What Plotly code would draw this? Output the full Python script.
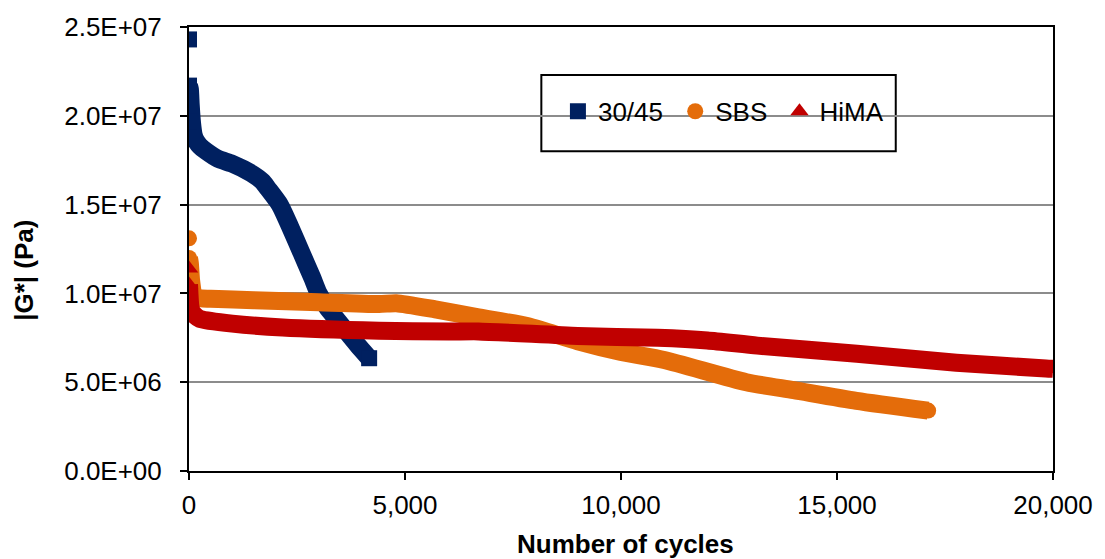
import plotly.graph_objects as go

# ---------------- data ----------------
# 30/45
b45_x = [0, 20, 40, 70, 110, 160, 250, 400, 676, 1000, 1444, 1700, 1828, 2100, 2350, 2600, 2850, 3000, 3200, 3400, 3630, 3900, 4170]
b45_y = [2.17e7, 2.15e7, 2.06e7, 1.96e7, 1.89e7, 1.86e7, 1.83e7, 1.80e7, 1.757e7, 1.73e7, 1.676e7, 1.63e7, 1.59e7, 1.50e7, 1.37e7, 1.23e7, 1.09e7, 1.00e7, 9.2e6, 8.6e6, 7.9e6, 7.1e6, 6.35e6]
b45_lone_x = [0, 0, 0]
b45_lone_y = [2.43e7, 2.17e7, 1.97e7]

# SBS
sbs_x = [0, 20, 50, 100, 200, 500, 1500, 3000, 4400, 4800, 5700, 6700, 7850, 9000, 10000, 11000, 12900, 14000, 15450, 17110]
sbs_y = [1.20e7, 1.17e7, 1.07e7, 1.0e7, 9.75e6, 9.7e6, 9.62e6, 9.5e6, 9.4e6, 9.45e6, 9.1e6, 8.65e6, 8.15e6, 7.3e6, 6.7e6, 6.25e6, 5.0e6, 4.55e6, 3.95e6, 3.4e6]
sbs_lone_x = [0, 0]
sbs_lone_y = [1.31e7, 1.20e7]

# HiMA
hima_x = [0, 10, 30, 60, 120, 250, 1000, 2166, 4400, 6013, 6700, 9000, 10850, 12000, 13157, 15461, 17765, 19836, 20000]
hima_y = [1.05e7, 1.0e7, 9.3e6, 9.0e6, 8.8e6, 8.57e6, 8.3e6, 8.08e6, 7.9e6, 7.85e6, 7.86e6, 7.6e6, 7.5e6, 7.35e6, 7.06e6, 6.6e6, 6.1e6, 5.77e6, 5.75e6]
hima_lone_x = [0, 0]
hima_lone_y = [1.14e7, 1.05e7]

series_names = ["30/45", "SBS", "HiMA"]
colors = ["#002060", "#E46C0A", "#C00000"]
symbols = ["square", "circle", "triangle-up"]

x_ticks = [0, 5000, 10000, 15000, 20000]
x_ticktext = ["0", "5,000", "10,000", "15,000", "20,000"]
y_ticks = [0, 5e6, 1e7, 1.5e7, 2e7, 2.5e7]
y_ticktext = ["0.0E+00", "5.0E+06", "1.0E+07", "1.5E+07", "2.0E+07", "2.5E+07"]

FONT = "Liberation Sans, Arial, sans-serif"
FS = 26
LW = 18
MS = 16

fig = go.Figure()

lines = [(b45_x, b45_y), (sbs_x, sbs_y), (hima_x, hima_y)]
lones = [(b45_lone_x, b45_lone_y), (sbs_lone_x, sbs_lone_y), (hima_lone_x, hima_lone_y)]
legend_names = [series_names[0] + "\u00a0", series_names[1] + "\u00a0", series_names[2]]

for i in range(3):
    lx, ly = lines[i]
    fig.add_trace(go.Scatter(
        x=lx, y=ly, mode="lines",
        line=dict(color=colors[i], width=LW, shape="spline", smoothing=0.6),
        showlegend=False, hoverinfo="skip"))
    ox, oy = lones[i]
    fig.add_trace(go.Scatter(
        x=list(ox) + [lx[-1]], y=list(oy) + [ly[-1]], mode="markers",
        marker=dict(color=colors[i], symbol=symbols[i], size=MS),
        name=legend_names[i], showlegend=True))

axis_common = dict(
    showline=True, linecolor="black", linewidth=2, mirror=True,
    ticks="outside", tickcolor="black", tickwidth=2, ticklen=7,
    zeroline=False,
    tickfont=dict(family=FONT, size=FS, color="black"),
)

fig.update_xaxes(range=[0, 20000], tickvals=x_ticks, ticktext=x_ticktext,
                 showgrid=False, ticklabelstandoff=3, **axis_common)
fig.update_yaxes(range=[0, 2.5e7], tickvals=y_ticks, ticktext=y_ticktext,
                 showgrid=True, gridcolor="#8c8c8c", gridwidth=2,
                 ticklabelstandoff=13, **axis_common)

# legend box
fig.add_shape(type="rect", xref="paper", yref="paper",
              x0=0.4078, x1=0.818, y0=0.72, y1=0.892,
              line=dict(color="black", width=2), fillcolor="white", layer="between")

fig.update_layout(
    width=1105, height=559,
    margin=dict(l=189, r=48, t=22, b=88),
    paper_bgcolor="white", plot_bgcolor="white",
    font=dict(family=FONT, size=FS, color="black"),
    legend=dict(orientation="h", x=0.427, y=0.81, xanchor="left", yanchor="middle",
                bgcolor="rgba(0,0,0,0)", borderwidth=0,
                font=dict(family=FONT, size=FS, color="black"),
                itemwidth=30, tracegroupgap=0),
    annotations=[
        dict(text="<b>Number of cycles</b>", xref="paper", yref="paper",
             x=0.505, y=-0.165, xanchor="center", yanchor="middle", showarrow=False,
             font=dict(family=FONT, size=FS, color="black")),
        dict(text="<b>|G*| (Pa)</b>", xref="paper", yref="paper",
             x=-0.191, y=0.453, xanchor="center", yanchor="middle", showarrow=False,
             textangle=-90, font=dict(family=FONT, size=FS, color="black")),
    ],
)

fig.write_html("out.html")
